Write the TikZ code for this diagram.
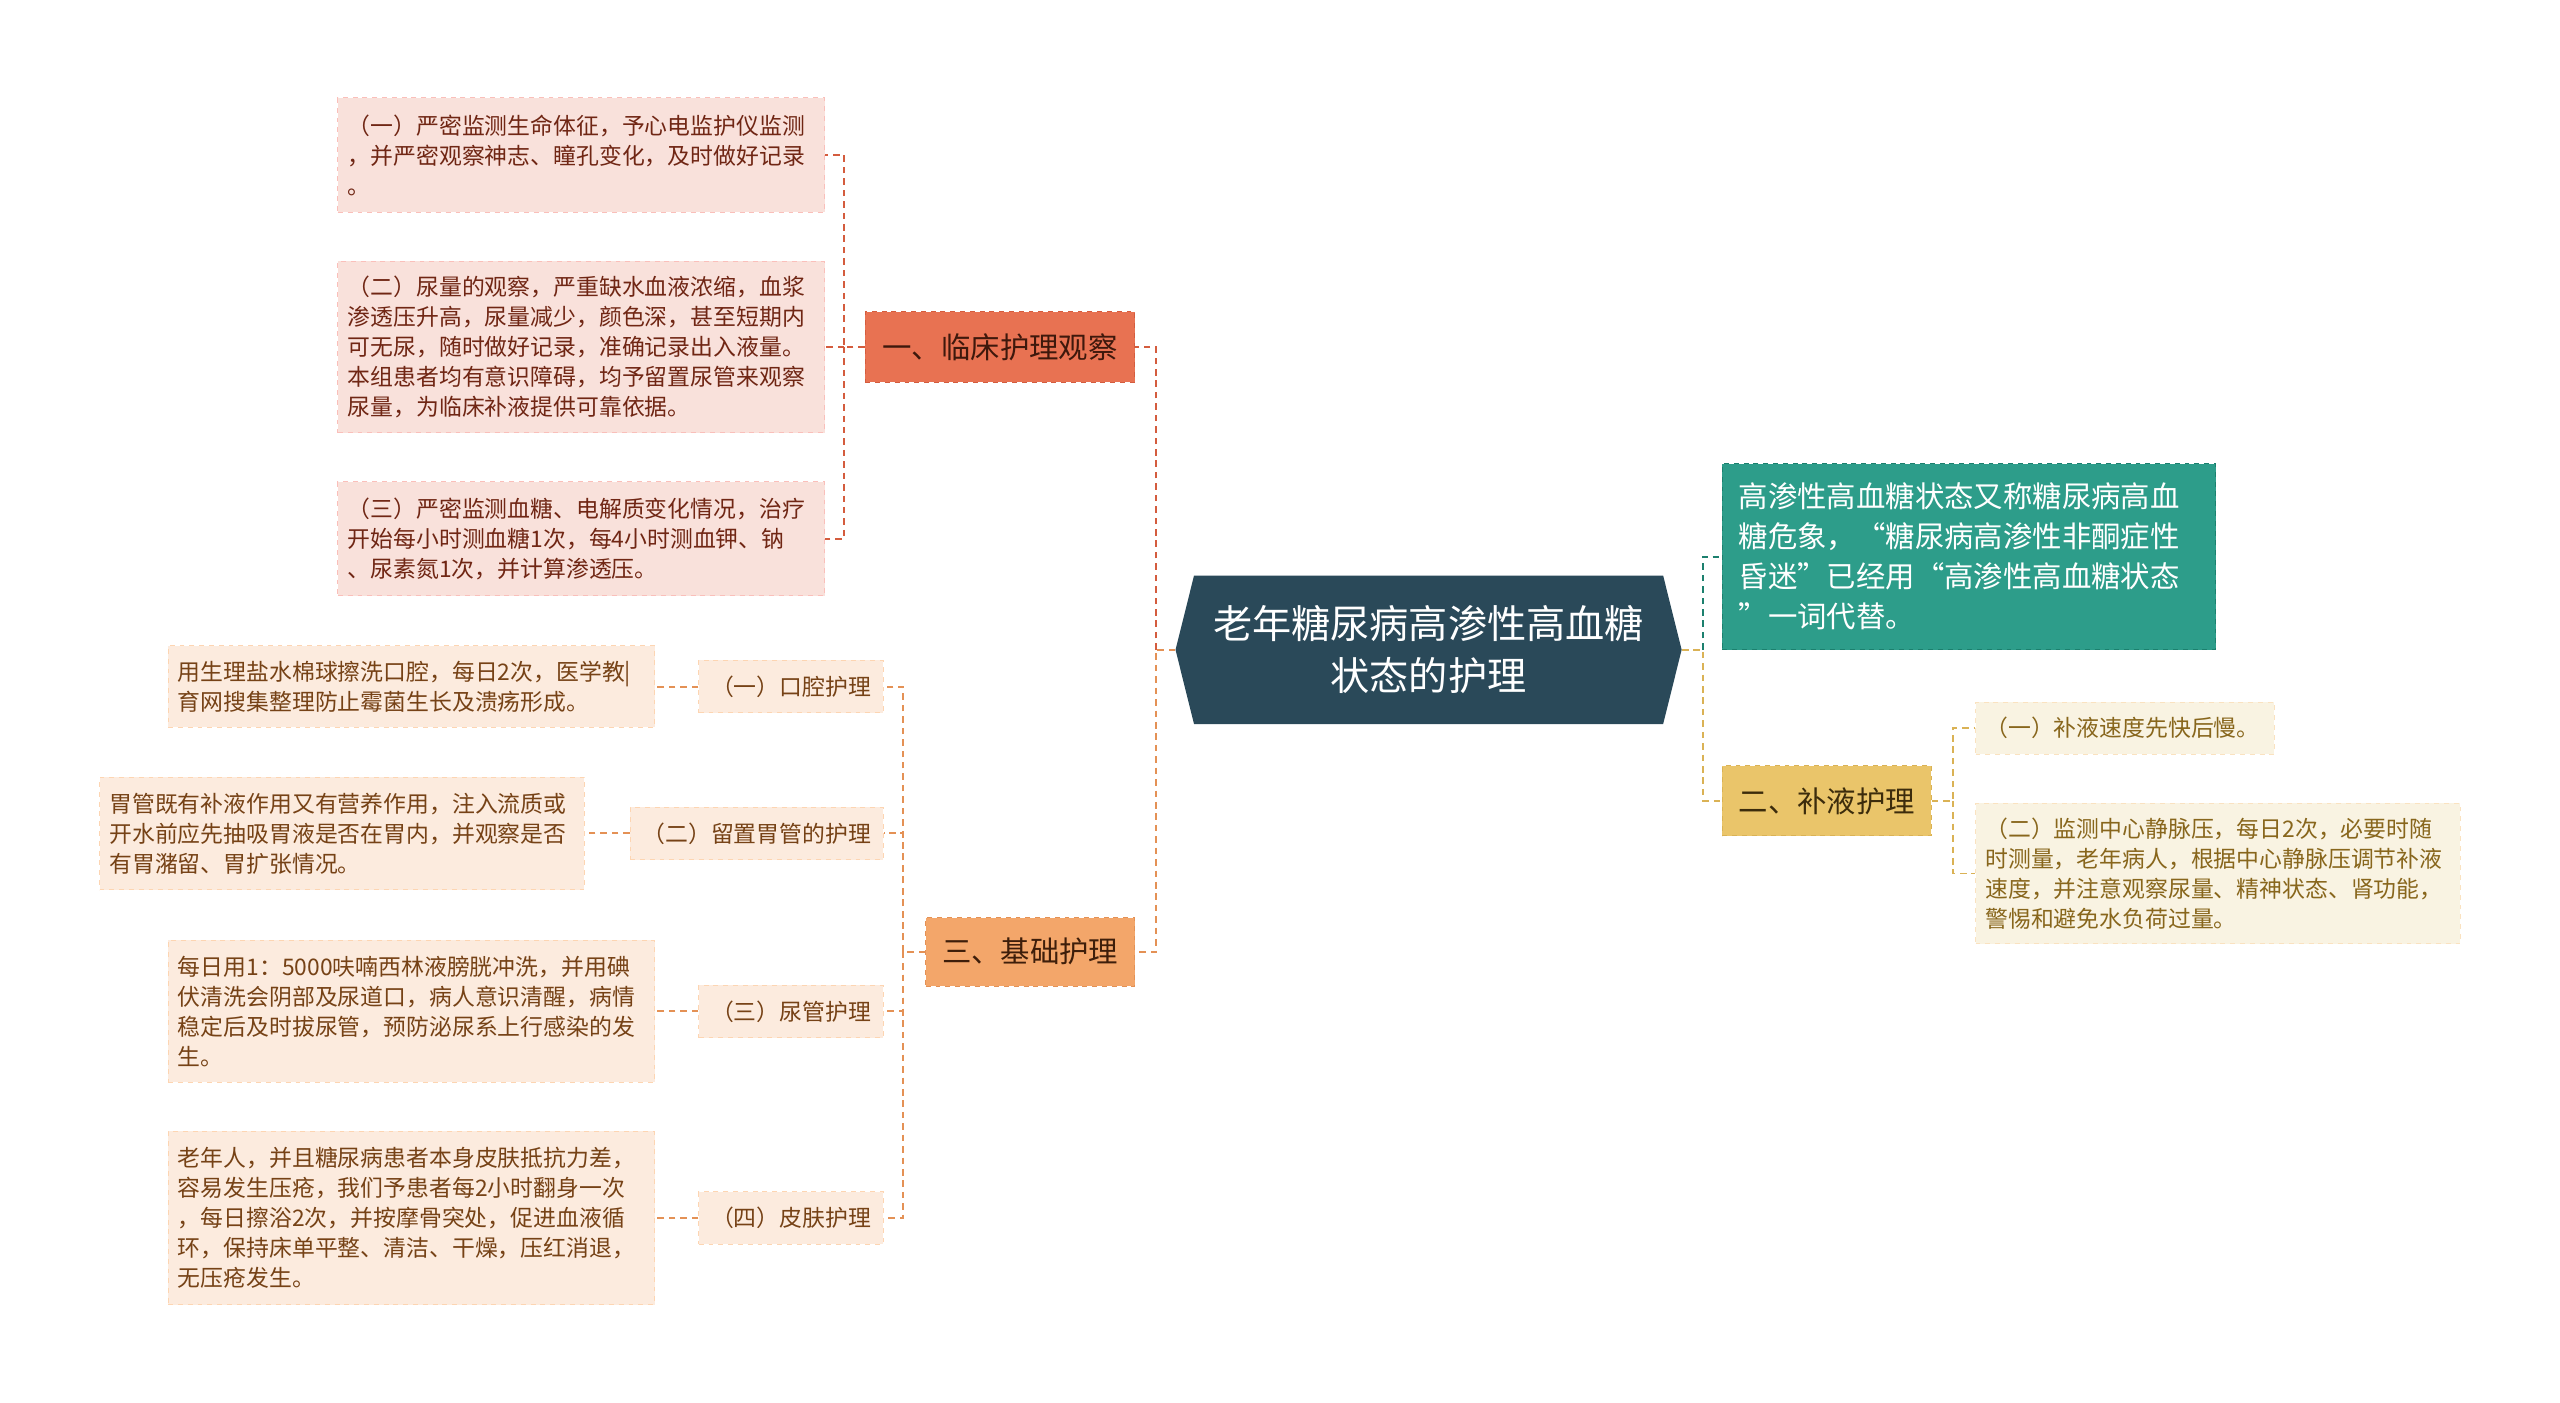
\documentclass[tikz,border=0pt]{standalone}
\usepackage{fontspec}
\setmainfont{Noto Sans CJK SC}
\usetikzlibrary{shapes.symbols}
\definecolor{rootblue}{RGB}{42,73,89}
\definecolor{coralfill}{RGB}{232,114,82}
\definecolor{coraldraw}{RGB}{212,92,62}
\definecolor{orangefill}{RGB}{243,166,106}
\definecolor{orangedraw}{RGB}{228,145,85}
\definecolor{tealfill}{RGB}{45,157,138}
\definecolor{tealdraw}{RGB}{28,128,110}
\definecolor{goldfill}{RGB}{234,197,106}
\definecolor{golddraw}{RGB}{218,178,85}
\definecolor{pinkleaf}{RGB}{249,225,219}
\definecolor{pinktext}{RGB}{112,38,20}
\definecolor{peachleaf}{RGB}{252,235,222}
\definecolor{peachtext}{RGB}{118,66,22}
\definecolor{creamleaf}{RGB}{249,243,226}
\definecolor{creamtext}{RGB}{136,102,28}
\begin{document}
\begin{tikzpicture}[x=1pt, y=-1pt,
    box/.style={dashed, line width=0.6pt, inner sep=0pt, align=center},
    branch/.style={box, font={\fontsize{18}{24.5}\selectfont}},
    leaf/.style={box, text width=286pt, inner xsep=6pt, align=left, font={\fontsize{14}{18.3}\selectfont}},
    sub/.style={box, font={\fontsize{14}{18.3}\selectfont}, fill=peachleaf, draw=peachleaf!80!orange, text=peachtext, minimum height=32pt},
    link/.style={dash pattern=on 4pt off 3pt, line width=1.2pt}]
    \path[use as bounding box, fill=white] (0,0) rectangle (1568,859);
    \node[shape=signal, signal to=east and west, signal pointer angle=152, fill=rootblue, text=white, minimum width=310pt, minimum height=91pt, inner sep=0pt, align=center, font={\fontsize{24}{32}\selectfont}] (root) at (875,398) {老年糖尿病高渗性高血糖\\状态的护理};
    \node[branch, fill=coralfill, draw=coraldraw, text={rgb,255:red,62;green,24;blue,12}, minimum width=165pt, minimum height=43pt] (obs) at (612.5,212.5) {一、临床护理观察};
    \node[branch, fill=orangefill, draw=orangedraw, text={rgb,255:red,62;green,30;blue,10}, minimum width=128pt, minimum height=42pt] (base) at (631,583) {三、基础护理};
    \node[branch, fill=tealfill, draw=tealdraw, text=white, text width=282pt, inner xsep=10pt, align=left, minimum height=114pt] (def) at (1206,341) {高渗性高血糖状态又称糖尿病高血\\糖危象，“糖尿病高渗性非酮症性\\昏迷”已经用“高渗性高血糖状态\\”一词代替。};
    \node[branch, fill=goldfill, draw=golddraw, text={rgb,255:red,60;green,44;blue,12}, minimum width=128pt, minimum height=43pt] (fluid) at (1119,490.5) {二、补液护理};
    \node[leaf, fill=creamleaf, draw=creamleaf!85!orange, text=creamtext, text width=171pt, minimum height=32pt] (f1) at (1301.5,446) {（一）补液速度先快后慢。};
    \node[leaf, fill=creamleaf, draw=creamleaf!85!orange, text=creamtext, text width=285pt, minimum height=86pt] (f2) at (1358.5,535) {（二）监测中心静脉压，每日2次，必要时随\\时测量，老年病人，根据中心静脉压调节补液\\速度，并注意观察尿量、精神状态、肾功能，\\警惕和避免水负荷过量。};
    \node[leaf, fill=pinkleaf, draw=pinkleaf!85!red, text=pinktext, minimum height=70pt] (o1) at (356,95) {（一）严密监测生命体征，予心电监护仪监测\\，并严密观察神志、瞳孔变化，及时做好记录\\。};
    \node[leaf, fill=pinkleaf, draw=pinkleaf!85!red, text=pinktext, minimum height=105pt] (o2) at (356,212.5) {（二）尿量的观察，严重缺水血液浓缩，血浆\\渗透压升高，尿量减少，颜色深，甚至短期内\\可无尿，随时做好记录，准确记录出入液量。\\本组患者均有意识障碍，均予留置尿管来观察\\尿量，为临床补液提供可靠依据。};
    \node[leaf, fill=pinkleaf, draw=pinkleaf!85!red, text=pinktext, minimum height=70pt] (o3) at (356,330) {（三）严密监测血糖、电解质变化情况，治疗\\开始每小时测血糖1次，每4小时测血钾、钠\\、尿素氮1次，并计算渗透压。};
    \node[sub, minimum width=113pt] (b1) at (484.5,420.5) {（一）口腔护理};
    \node[sub, minimum width=155pt] (b2) at (463.5,510.5) {（二）留置胃管的护理};
    \node[sub, minimum width=113pt] (b3) at (484.5,619.5) {（三）尿管护理};
    \node[sub, minimum width=113pt] (b4) at (484.5,746) {（四）皮肤护理};
    \node[leaf, fill=peachleaf, draw=peachleaf!80!orange, text=peachtext, minimum height=50pt] (l1) at (252,420.5) {用生理盐水棉球擦洗口腔，每日2次，医学教|\\育网搜集整理防止霉菌生长及溃疡形成。};
    \node[leaf, fill=peachleaf, draw=peachleaf!80!orange, text=peachtext, text width=285pt, minimum height=69pt] (l2) at (209.5,510.5) {胃管既有补液作用又有营养作用，注入流质或\\开水前应先抽吸胃液是否在胃内，并观察是否\\有胃潴留、胃扩张情况。};
    \node[leaf, fill=peachleaf, draw=peachleaf!80!orange, text=peachtext, minimum height=87pt] (l3) at (252,619.5) {每日用1：5000呋喃西林液膀胱冲洗，并用碘\\伏清洗会阴部及尿道口，病人意识清醒，病情\\稳定后及时拔尿管，预防泌尿系上行感染的发\\生。};
    \node[leaf, fill=peachleaf, draw=peachleaf!80!orange, text=peachtext, minimum height=106pt] (l4) at (252,746) {老年人，并且糖尿病患者本身皮肤抵抗力差，\\容易发生压疮，我们予患者每2小时翻身一次\\，每日擦浴2次，并按摩骨突处，促进血液循\\环，保持床单平整、清洁、干燥，压红消退，\\无压疮发生。};
    \coordinate (jl) at (708,398);
    \coordinate (jr) at (1043,398);
    \coordinate (jo) at (517,212.5);
    \coordinate (jb) at (553,583);
    \coordinate (jf) at (1196,490.5);
    \draw[link, coraldraw] (jl) |- (obs.east);
    \draw[link, orangedraw] (root.west) -- (jl) |- (base.east);
    \draw[link, tealdraw] (jr) |- (def.west);
    \draw[link, golddraw] (root.east) -- (jr) |- (fluid.west);
    \draw[link, coraldraw] (obs.west) -- (jo) |- (o1.east);
    \draw[link, coraldraw] (jo) |- (o2.east);
    \draw[link, coraldraw] (jo) |- (o3.east);
    \draw[link, orangedraw] (base.west) -- (jb) |- (b1.east);
    \draw[link, orangedraw] (jb) |- (b2.east);
    \draw[link, orangedraw] (jb) |- (b3.east);
    \draw[link, orangedraw] (jb) |- (b4.east);
    \draw[link, golddraw] (fluid.east) -- (jf) |- (f1.west);
    \draw[link, golddraw] (jf) |- (f2.west);
    \draw[link, orangedraw] (b1.west) -- (l1.east);
    \draw[link, orangedraw] (b2.west) -- (l2.east);
    \draw[link, orangedraw] (b3.west) -- (l3.east);
    \draw[link, orangedraw] (b4.west) -- (l4.east);
\end{tikzpicture}
\end{document}
